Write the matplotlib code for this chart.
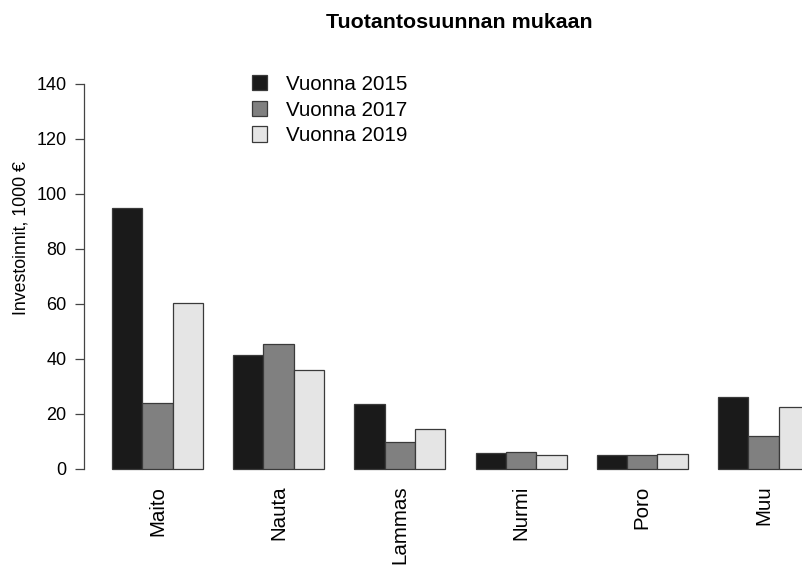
import numpy as np
from matplotlib import pyplot as plt
from matplotlib.patches import Patch

plt.rcParams['font.family'] = ['Liberation Sans', 'DejaVu Sans']

# Investoinnit tuotantosuunnan mukaan, 1000 €
categories = ["Maito", "Nauta", "Lammas", "Nurmi", "Poro", "Muu"]
years = ["Vuonna 2015", "Vuonna 2017", "Vuonna 2019"]
v2015 = [94.9, 41.5, 23.6, 5.9, 5.0, 26.3]
v2017 = [24.0, 45.6, 9.7, 6.3, 5.2, 11.9]
v2019 = [60.2, 36.0, 14.4, 5.0, 5.6, 22.7]
yticks = [0, 20, 40, 60, 80, 100, 120, 140]

colors = ["#1a1a1a", "#808080", "#e5e5e5"]
edge = "#3a3a3a"

fig = plt.figure(figsize=(8.03, 5.65), dpi=100)
# plot region runs past the right edge, like the cropped original
ax = fig.add_axes([0.1047, 0.1427, 0.9374, 0.7359])

n = len(categories)
starts = 1 + 4 * np.arange(n)   # barplot beside=TRUE, space=c(0,1)
for i, vals in enumerate([v2015, v2017, v2019]):
    ax.bar(starts + i, vals, width=1.0, align='edge', color=colors[i],
           edgecolor=edge, linewidth=0.9)

ax.set_xlim(0.08, 24.92)
ax.set_ylim(-5.6, 145.6)

for s in ["top", "right", "bottom"]:
    ax.spines[s].set_visible(False)
ax.spines["left"].set_bounds(0, 140)
ax.spines["left"].set_color("#444444")
ax.spines["left"].set_linewidth(0.9)

ax.set_yticks(yticks)
ax.set_yticklabels([str(t) for t in yticks], fontsize=13)
ax.tick_params(axis='y', length=6.5, width=0.9, color="#444444", pad=6)

ax.set_xticks(starts + 1.5)
ax.set_xticklabels(categories, rotation=90, fontsize=14.8)
ax.tick_params(axis='x', length=0, pad=1)

fig.text(21 / 803, 1 - 238 / 565, "Investoinnit, 1000 €", rotation=90,
         ha='center', va='center', fontsize=12.8)
fig.text(459 / 803, 1 - 23 / 565, "Tuotantosuunnan mukaan", ha='center',
         va='center', fontsize=15.4, fontweight='bold')

handles = [Patch(facecolor=c, edgecolor=edge, linewidth=0.9) for c in colors]
ax.legend(handles, years, loc='upper left', bbox_to_anchor=(252 / 803, 1 - 75 / 565),
          bbox_transform=fig.transFigure, frameon=False, fontsize=14.8,
          handlelength=0.75, handleheight=0.75, handletextpad=0.9,
          labelspacing=0.32, borderpad=0, borderaxespad=0)

fig.savefig("out.png", dpi=100)
